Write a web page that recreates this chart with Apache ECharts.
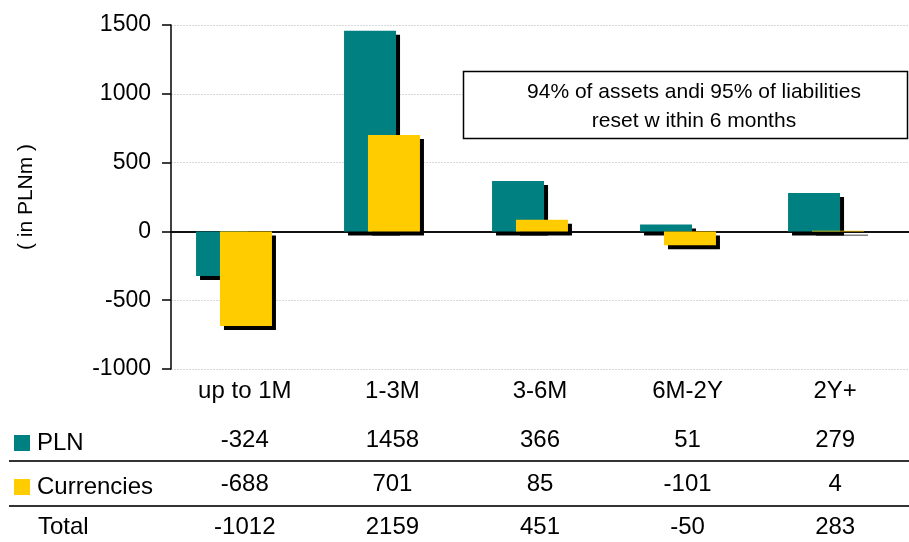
<!DOCTYPE html>
<html>
<head>
<meta charset="utf-8">
<script src="https://cdn.jsdelivr.net/npm/echarts@6/dist/echarts.min.js"></script>
<style>
html,body{margin:0;padding:0;background:#fff;}
#chart{width:909px;height:542px;}
</style>
</head>
<body>
<div id="chart"></div>
<script>
const categories = ['up to 1M', '1-3M', '3-6M', '6M-2Y', '2Y+'];
const plnValues = [-324, 1458, 366, 51, 279];
const currencyValues = [-688, 701, 85, -101, 4];
const totalValues = [-1012, 2159, 451, -50, 283];
const seriesNames = ['PLN', 'Currencies'];
const yMin = -1000, yMax = 1500, yStep = 500;
const axisTitle = '( in PLNm )';
const noteLines = ['94% of assets andi 95% of liabilities', 'reset w ithin 6 months'];

const FONT = "'Liberation Sans', Arial, sans-serif";
const TEAL = '#008080', GOLD = '#FFCC00';

const chart = echarts.init(document.getElementById('chart'), null, {renderer: 'canvas'});

function tableAxis(values, offset) {
  return {
    type: 'category', gridIndex: 1, data: categories, position: 'bottom', offset: offset,
    axisLine: {show: false, onZero: false}, axisTick: {show: false}, splitLine: {show: false},
    axisLabel: {
      interval: 0, margin: 10, color: '#000', fontFamily: FONT, fontSize: 24,
      formatter: function (v, i) { return String(values[i]); }
    }
  };
}

const barStyle = function (c) {
  return {color: c, shadowColor: '#000', shadowBlur: 0, shadowOffsetX: 4, shadowOffsetY: 4};
};

chart.setOption({
  animation: false,
  backgroundColor: '#fff',
  textStyle: {fontFamily: FONT},
  grid: [
    {left: 160, top: 25, bottom: 173, width: 740},
    {left: 171, top: 25, bottom: 173, width: 740}
  ],
  xAxis: [
    {type: 'category', gridIndex: 0, data: categories, show: false},
    {
      type: 'category', gridIndex: 1, data: categories, position: 'bottom',
      axisLine: {show: false, onZero: false}, axisTick: {show: false},
      axisLabel: {interval: 0, margin: 10, color: '#000', fontFamily: FONT, fontSize: 24}
    },
    {
      type: 'category', gridIndex: 1, data: categories,
      axisLine: {show: true, onZero: true, lineStyle: {color: '#111', width: 2}},
      axisTick: {show: false}, axisLabel: {show: false}
    },
    tableAxis(plnValues, 49),
    tableAxis(currencyValues, 93),
    tableAxis(totalValues, 136)
  ],
  yAxis: [
    {type: 'value', gridIndex: 0, min: yMin, max: yMax, interval: yStep, show: false, splitLine: {show: false}},
    {
      type: 'value', gridIndex: 1, min: yMin, max: yMax, interval: yStep,
      name: axisTitle, nameLocation: 'middle', nameRotate: 90, nameGap: 134,
      nameTextStyle: {color: '#000', fontFamily: FONT, fontSize: 21},
      axisLine: {show: true, lineStyle: {color: '#000', width: 1.5}},
      axisTick: {show: true, length: 9, lineStyle: {color: '#000', width: 1.5}},
      axisLabel: {margin: 20, color: '#000', fontFamily: FONT, fontSize: 23, formatter: function (v) { return String(v); }},
      splitLine: {show: true, lineStyle: {color: '#d8d8d8', width: 1, type: [2, 1]}}
    }
  ],
  legend: {
    orient: 'vertical', left: 14, top: 431, padding: 0, itemWidth: 16, itemHeight: 16, itemGap: 20,
    icon: 'rect', selectedMode: false, data: seriesNames,
    textStyle: {color: '#000', fontFamily: FONT, fontSize: 24, padding: [0, 0, 0, 2]},
    itemStyle: {shadowColor: 'transparent', shadowBlur: 0, shadowOffsetX: 0, shadowOffsetY: 0}
  },
  series: [
    {
      name: seriesNames[0], type: 'bar', xAxisIndex: 0, yAxisIndex: 0, data: plnValues,
      barWidth: 52, barGap: '-54%', itemStyle: barStyle(TEAL)
    },
    {
      name: seriesNames[1], type: 'bar', xAxisIndex: 0, yAxisIndex: 0, data: currencyValues,
      barWidth: 52, barGap: '-54%', itemStyle: barStyle(GOLD)
    }
  ],
  graphic: [
    {type: 'line', shape: {x1: 9, y1: 461, x2: 909, y2: 461}, style: {stroke: '#333', lineWidth: 2}},
    {type: 'line', shape: {x1: 9, y1: 506, x2: 909, y2: 506}, style: {stroke: '#333', lineWidth: 2}},
    {type: 'text', left: 38, top: 515, style: {text: 'Total', fill: '#000', font: '24px ' + FONT}},
    {type: 'rect', shape: {x: 463.5, y: 71.5, width: 444, height: 67}, style: {fill: '#fff', stroke: '#000', lineWidth: 1.5}, z: 10},
    {type: 'text', x: 694, y: 92, style: {text: noteLines[0], fill: '#000', font: '21px ' + FONT, textAlign: 'center', textVerticalAlign: 'middle'}, z: 11},
    {type: 'text', x: 694, y: 121, style: {text: noteLines[1], fill: '#000', font: '21px ' + FONT, textAlign: 'center', textVerticalAlign: 'middle'}, z: 11}
  ]
});
</script>
</body>
</html>
